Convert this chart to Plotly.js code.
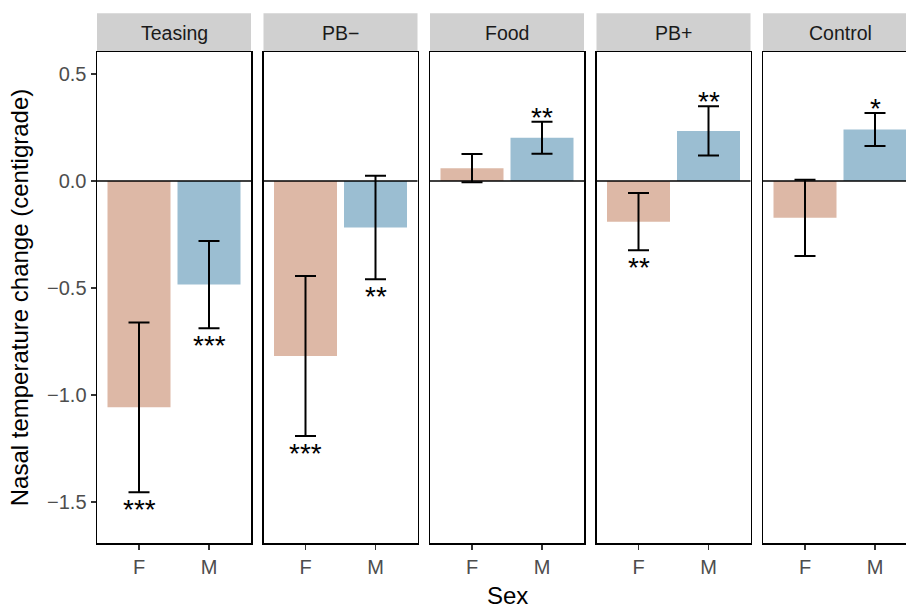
<!DOCTYPE html>
<html>
<head>
<meta charset="utf-8">
<script src="https://cdn.plot.ly/plotly-3.0.1.min.js"></script>
<style>
  html, body { margin: 0; padding: 0; overflow: hidden; background: #fff; }
  #chart { width: 920px; height: 609px; }
</style>
</head>
<body>
<div id="chart"></div>
<script>
// ---- data ----
const panels = ['Teasing', 'PB\u2212', 'Food', 'PB+', 'Control'];
const sexes = ['F', 'M'];
const meanF = [-1.058, -0.818, 0.060, -0.190, -0.172];
const meanM = [-0.484, -0.217, 0.202, 0.234, 0.241];
const seF = [0.397, 0.374, 0.066, 0.134, 0.178];
const seM = [0.204, 0.242, 0.075, 0.115, 0.077];
const starsF = ['***', '***', '', '**', ''];
const starsM = ['***', '**', '**', '**', '*'];
const yTickVals = [0.5, 0, -0.5, -1, -1.5];
const yRange = [-1.692, 0.603];

// ---- style ----
const colF = '#DDB8A6';
const colM = '#9BBED2';
const font = 'Liberation Sans, Arial, Helvetica, sans-serif';
const W = 920, H = 609;
const margin = {l: 97, r: 3, t: 52, b: 66};
const plotW = W - margin.l - margin.r;   // 820
const plotH = H - margin.t - margin.b;   // 491
const panelW = 154, gap = 12.5;
const stripTopPx = 13.3;

const traces = [];
const layout = {
  width: W, height: H, margin: margin,
  paper_bgcolor: '#fff', plot_bgcolor: '#fff',
  showlegend: false,
  font: {family: font, color: '#000'},
  shapes: [], annotations: []
};

panels.forEach((p, i) => {
  const sfx = i === 0 ? '' : String(i + 1);
  const d0 = i * (panelW + gap) / plotW;
  const d1 = d0 + panelW / plotW;
  traces.push({
    type: 'bar',
    x: [0, 1],
    y: [meanF[i], meanM[i]],
    width: 0.9,
    marker: {color: [colF, colM], line: {width: 0}},
    error_y: {type: 'data', array: [seF[i], seM[i]], visible: true,
              color: '#000', thickness: 2, width: 10.5},
    xaxis: 'x' + sfx, yaxis: 'y' + sfx,
    hoverinfo: 'skip'
  });
  layout['xaxis' + sfx] = {
    domain: [d0, d1], anchor: 'y' + sfx,
    range: [-0.6, 1.6],
    tickmode: 'array', tickvals: [0, 1], ticktext: sexes,
    showline: true, mirror: true, linecolor: '#000', linewidth: 1.5,
    ticks: 'outside', ticklen: 5, tickwidth: 1.5, tickcolor: '#333',
    tickfont: {family: font, size: 20, color: '#4d4d4d'},
    showgrid: false, zeroline: false, fixedrange: true
  };
  if (i === 2) {
    // x-axis title, centred under the middle panel (= centre of all panels)
    layout.annotations.push({text: 'Sex', xref: 'x' + sfx + ' domain', x: 0.5,
      yref: 'paper', y: -(595 - (H - margin.b)) / plotH, xanchor: 'center', yanchor: 'middle',
      showarrow: false, font: {family: font, size: 24, color: '#000'}});
  }
  const ya = {
    domain: [0, 1], anchor: 'x' + sfx,
    range: yRange,
    showline: true, mirror: true, linecolor: '#000', linewidth: 1.5,
    showgrid: false, zeroline: false, fixedrange: true
  };
  if (i === 0) {
    Object.assign(ya, {
      tickmode: 'array', tickvals: yTickVals, tickformat: '.1f',
      ticks: 'outside', ticklen: 5, tickwidth: 1.5, tickcolor: '#333',
      tickfont: {family: font, size: 20, color: '#4d4d4d'},
      title: {text: 'Nasal temperature change (centigrade)', font: {family: font, size: 24, color: '#000'}, standoff: 11}
    });
  } else {
    Object.assign(ya, {showticklabels: false, ticks: ''});
  }
  layout['yaxis' + sfx] = ya;

  // zero reference line
  layout.shapes.push({type: 'line', xref: 'x' + sfx + ' domain', x0: 0, x1: 1,
    yref: 'y' + sfx, y0: 0, y1: 0, line: {color: '#000', width: 1.5}, layer: 'above'});
  // facet strip
  const stripTop = 1 + (margin.t - stripTopPx) / plotH;
  layout.shapes.push({type: 'rect', xref: 'x' + sfx + ' domain', x0: 0, x1: 1,
    yref: 'paper', y0: 1.002, y1: stripTop, fillcolor: '#D0D0D0', line: {width: 0}, layer: 'below'});
  layout.annotations.push({text: p, xref: 'x' + sfx + ' domain', x: 0.5, yref: 'paper',
    y: (1 + stripTop) / 2, xanchor: 'center', yanchor: 'middle', showarrow: false,
    font: {family: font, size: 19.5, color: '#1a1a1a'}});

  // significance stars
  [[starsF[i], meanF[i], seF[i], 0], [starsM[i], meanM[i], seM[i], 1]].forEach(([s, m, se, xi]) => {
    if (!s) return;
    const below = m < 0;
    layout.annotations.push({
      text: s, xref: 'x' + sfx, yref: 'y' + sfx, x: xi,
      y: below ? m - se : m + se,
      xanchor: 'center', yanchor: below ? 'top' : 'bottom',
      yshift: below ? 0 : -13,
      showarrow: false,
      font: {family: font, size: 28, color: '#000'}
    });
  });
});

Plotly.newPlot('chart', traces, layout, {displayModeBar: false, staticPlot: true});
</script>
</body>
</html>
